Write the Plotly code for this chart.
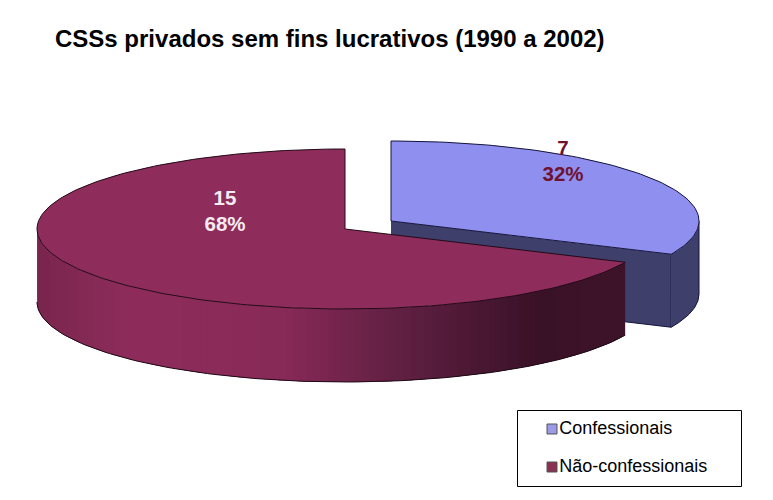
import math
import numpy as np
import plotly.graph_objects as go

# Data
categories = ["Confessionais", "Não-confessionais"]
values = [7, 15]
percent_labels = ["32%", "68%"]
title_text = "CSSs privados sem fins lucrativos (1990 a 2002)"

# Colours
top_colours = ["#8F8FEF", "#8E2D5C"]
wall_blue = "#3E3F6B"
label_colours = ["#6E1230", "#F4ECF2"]
legend_colours = ["#9A9AE6", "#8A3050"]

# Projection of the exploded pie, in the pixel space of the page
RX, RY, DEPTH = 308, 80, 73
APEX = [(391, 221), (345, 229)]
LABEL_XY = [(172, -58), (-120, -16)]

total = sum(values)
sweep = [2 * math.pi * v / total for v in values]


def pt(cx, cy, a, dz=0):
    """Angle a is clockwise from twelve o'clock."""
    return cx + RX * math.sin(a), cy - RY * math.cos(a) + dz


fig = go.Figure()


def poly(xs, ys, fill):
    fig.add_trace(go.Scatter(x=xs, y=ys, mode="none", fill="toself", fillcolor=fill,
                             showlegend=False, hoverinfo="skip"))


def stroke(xs, ys, colour, width=1.0):
    fig.add_trace(go.Scatter(x=xs, y=ys, mode="lines", line=dict(color=colour, width=width),
                             showlegend=False, hoverinfo="skip"))


# ---- Confessionais: starts at 12 o'clock, runs clockwise
cx, cy = APEX[0]
a_end = sweep[0]
arc = np.linspace(0, a_end, 90)
ax, ay = zip(*[pt(cx, cy, a) for a in arc])
ex, ey = pt(cx, cy, a_end)
# cut face
poly([cx, ex, ex, cx], [cy, ey, ey + DEPTH, cy + DEPTH], wall_blue)
stroke([ex, ex, cx], [ey, ey + DEPTH, cy + DEPTH], "#14143C", 1)
# outer wall (visible lower right part)
wall = np.linspace(math.pi / 2, a_end, 30)
wx, wy = zip(*[pt(cx, cy, a) for a in wall])
bx, by = zip(*[pt(cx, cy, a, DEPTH) for a in wall])
poly(list(wx) + list(bx)[::-1], list(wy) + list(by)[::-1], wall_blue)
stroke(list(bx), list(by), "#14143C", 1)
stroke([wx[0], bx[0]], [wy[0], by[0]], "#14143C", 1)
# top
poly([cx] + list(ax) + [cx], [cy] + list(ay) + [cy], top_colours[0])
stroke([cx] + list(ax) + [cx], [cy] + list(ay) + [cy], "#14143C", 1.0)

# ---- Não-confessionais: continues clockwise from the end of the other slice
cx, cy = APEX[1]
a_start = sweep[0]
a_stop = 2 * math.pi
# outer wall, gradient from the left rim to the right end
stops_f = [0.0, 0.16, 0.42, 0.62, 0.85, 1.0]
stops_c = [(122, 38, 78), (142, 45, 92), (136, 42, 88), (96, 32, 66), (58, 18, 40), (62, 20, 42)]
vis = np.linspace(a_start, 1.5 * math.pi, 121)
xmin = cx - RX
xmax = pt(cx, cy, a_start)[0]
# painted right to left with each band running under the next, so no seams show
for k in range(len(vis) - 1):
    p0 = pt(cx, cy, vis[k])
    p1 = pt(cx, cy, vis[k + 1])
    f = min(1, max(0, ((p0[0] + p1[0]) / 2 - xmin) / (xmax - xmin)))
    rgb = [np.interp(f, stops_f, [c[j] for c in stops_c]) for j in range(3)]
    col = "rgb(%d,%d,%d)" % tuple(rgb)
    band = vis[k:min(k + 3, len(vis))]
    tx, ty = zip(*[pt(cx, cy, a) for a in band])
    ux, uy = zip(*[pt(cx, cy, a, DEPTH) for a in band])
    poly(list(tx) + list(ux)[::-1], list(ty) + list(uy)[::-1], col)
bx, by = zip(*[pt(cx, cy, a, DEPTH) for a in vis])
stroke(list(bx), list(by), "#1E0A16", 1)
# top
arc = np.linspace(a_start, a_stop, 200)
ax, ay = zip(*[pt(cx, cy, a) for a in arc])
poly([cx] + list(ax) + [cx], [cy] + list(ay) + [cy], top_colours[1])
stroke([cx] + list(ax) + [cx], [cy] + list(ay) + [cy], "#240A18", 1.0)

# ---- Data labels
for i in range(2):
    fig.add_trace(go.Scatter(
        x=[APEX[i][0] + LABEL_XY[i][0]], y=[APEX[i][1] + LABEL_XY[i][1]], mode="text",
        text=[f"{values[i]}<br>{percent_labels[i]}"],
        textfont=dict(family="Liberation Sans", size=20.5, color=label_colours[i], weight="bold"),
        showlegend=False, hoverinfo="skip"))

# ---- Legend: frame, swatches and names
fig.add_trace(go.Scatter(
    x=[552, 552], y=[429, 467], mode="markers+text", text=categories,
    textposition="middle right",
    textfont=dict(family="Liberation Sans", size=18, color="black"),
    marker=dict(symbol="square", size=10, color=legend_colours,
                line=dict(color="#555555", width=1)),
    showlegend=False, hoverinfo="skip"))

fig.update_layout(
    width=773, height=500, margin=dict(l=0, r=0, t=0, b=0),
    paper_bgcolor="white", plot_bgcolor="white",
    xaxis=dict(range=[0, 773], visible=False, fixedrange=True),
    yaxis=dict(range=[500, 0], visible=False, fixedrange=True),
    title=dict(text=title_text, x=55 / 773, xanchor="left", y=1 - 39 / 500, yanchor="middle",
               font=dict(family="Liberation Sans", size=24, color="black", weight="bold")),
    shapes=[dict(type="rect", xref="x", yref="y", x0=517.5, x1=741.5, y0=410.5, y1=486.5,
                 line=dict(color="black", width=1), fillcolor="white", layer="below")],
    showlegend=False,
)
fig.write_html("out.html", config={"displayModeBar": False},
               post_script="document.body.style.margin='0';window.dispatchEvent(new Event('resize'));")
